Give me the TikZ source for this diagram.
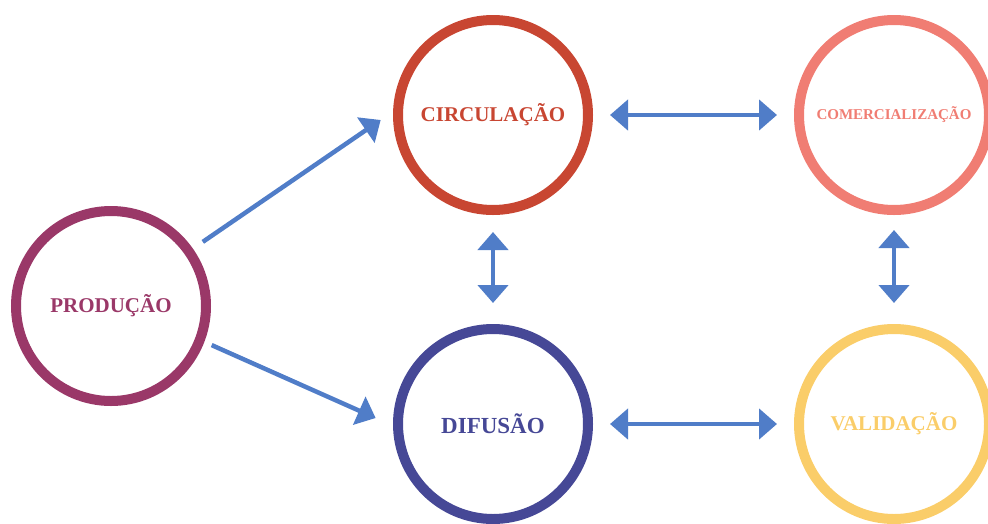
\documentclass[tikz,border=0pt]{standalone}
\usepackage{fontspec}
\setmainfont{Liberation Serif}
\usepackage{tikz}
\usetikzlibrary{arrows.meta}

\definecolor{prodcol}{HTML}{9A3868}
\definecolor{circcol}{HTML}{C84632}
\definecolor{commcol}{HTML}{F07D73}
\definecolor{difucol}{HTML}{464896}
\definecolor{valicol}{HTML}{FACD69}
\definecolor{arrowcol}{HTML}{507DC8}

\begin{document}
\begin{tikzpicture}[x=1pt,y=-1pt,>={Triangle[length=18pt,width=30pt]},
		main node/.style={circle,draw,line width=10pt,minimum size=190pt,inner sep=0pt,
			font=\fontsize{21}{21}\selectfont\bfseries},
		link/.style={arrowcol,line width=4.5pt}]
		\clip (0,0) rectangle (988,523);
		\node[main node,draw=prodcol,text=prodcol] (prod) at (111,306) {PRODUÇÃO};
		\node[main node,draw=circcol,text=circcol] (circ) at (493,115) {CIRCULAÇÃO};
		\node[main node,draw=commcol,text=commcol,font=\fontsize{15}{15}\selectfont\bfseries] (comm) at (894,115) {COMERCIALIZAÇÃO};
		\node[main node,draw=difucol,text=difucol,font=\fontsize{23}{23}\selectfont\bfseries] (difu) at (493,424) {DIFUSÃO};
		\node[main node,draw=valicol,text=valicol] (vali) at (894,424) {VALIDAÇÃO};
		% setas
		\draw[link,->,shorten <=12pt,shorten >=15pt] (prod.35) -- (circ.178);
		\draw[link,->,shorten <=8pt,shorten >=19pt] (prod.-21) -- (difu.181);
		\draw[link,<->,shorten <=17pt,shorten >=17pt] (circ.east) -- (comm.west);
		\draw[link,<->,shorten <=17pt,shorten >=17pt] (difu.east) -- (vali.west);
		\draw[link,<->,shorten <=17pt,shorten >=21pt] (circ.south) -- (difu.north);
		\draw[link,<->,shorten <=15pt,shorten >=21pt] (comm.south) -- (vali.north);
\end{tikzpicture}
\end{document}
